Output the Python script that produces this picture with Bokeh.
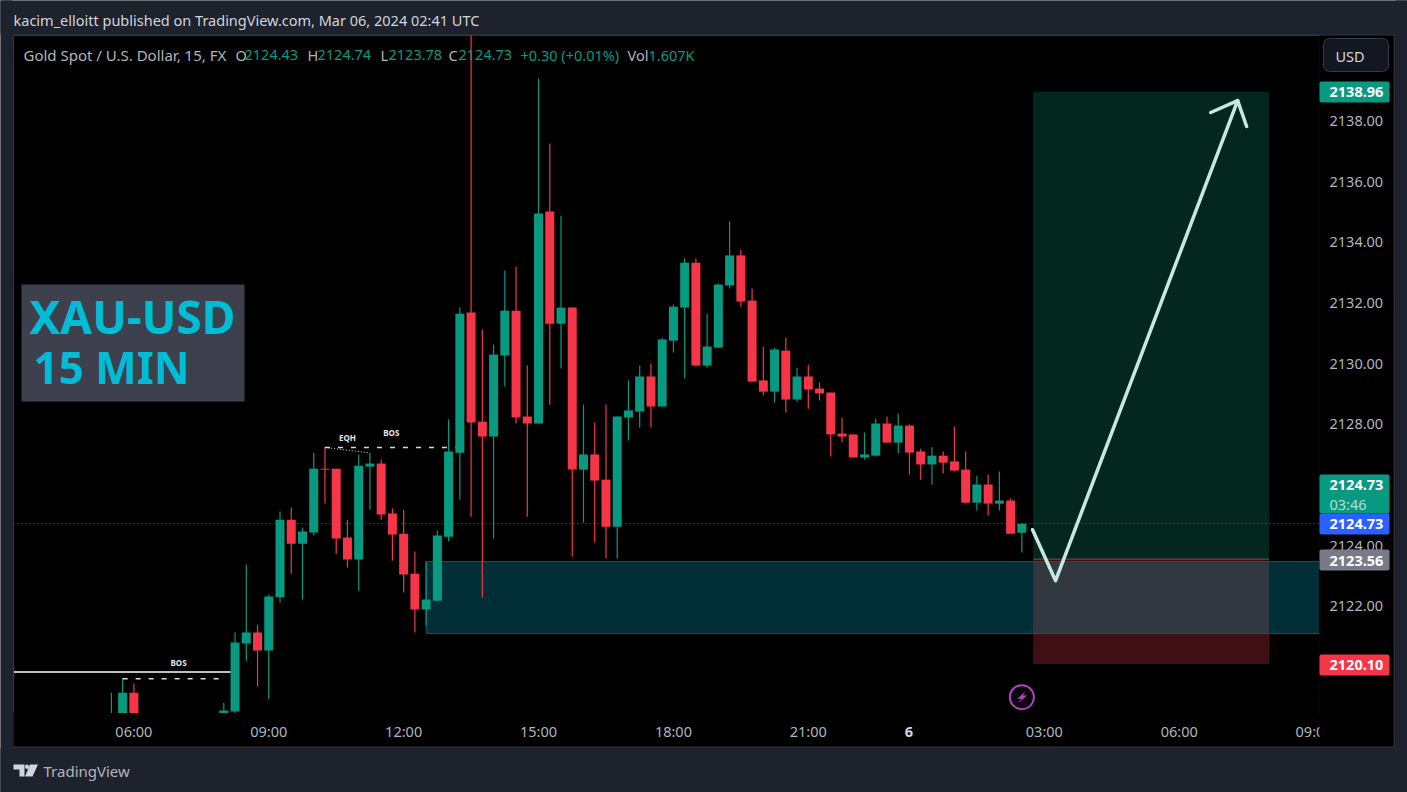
from bokeh.plotting import figure
from bokeh.core.properties import value
from bokeh.models import FixedTicker, PrintfTickFormatter, Range1d
from bokeh.embed import file_html
from bokeh.resources import INLINE

# ---- candle data (bar index 0 = 06:00, 15 min bars) ----
bar_index = [-2, -1, 0, 8, 9, 10, 11, 12, 13, 14, 15, 16, 17, 18, 19, 20, 21, 22, 23, 24, 25, 26, 27, 28, 29, 30, 31, 32, 33,
             34, 35, 36, 37, 38, 39, 40, 41, 42, 43, 44, 45, 46, 47, 48, 49, 50, 51, 52, 53, 54, 55, 56, 57, 58, 59, 60,
             61, 62, 63, 64, 65, 66, 67, 68, 69, 70, 71, 72, 73, 74, 75, 76, 77, 78, 79]
opens = [2117.50, 2118.00, 2119.16, 2118.45, 2118.54, 2120.78, 2121.14, 2120.55, 2122.30, 2124.86, 2124.07, 2124.44, 2126.54,
         2126.54, 2124.27, 2123.55, 2126.61, 2126.71, 2125.06, 2124.40, 2123.08, 2121.90, 2122.19, 2124.30, 2127.07, 2131.69,
         2128.09, 2127.60, 2130.27, 2131.75, 2128.26, 2128.03, 2135.02, 2131.32, 2131.85, 2126.51, 2127.01, 2126.18, 2124.63,
         2128.23, 2128.42, 2129.58, 2128.59, 2130.76, 2131.85, 2133.33, 2129.94, 2130.53, 2132.58, 2133.57, 2132.08, 2129.45,
         2129.08, 2130.43, 2128.82, 2129.58, 2129.18, 2129.05, 2127.70, 2127.67, 2126.91, 2126.97, 2128.03, 2127.40, 2127.96,
         2127.11, 2126.68, 2126.97, 2126.78, 2126.51, 2125.42, 2126.02, 2125.39, 2125.49, 2124.43]
highs = [2119.16, 2119.63, 2119.46, 2118.83, 2121.14, 2123.38, 2121.40, 2122.39, 2125.13, 2125.26, 2124.60, 2127.07, 2127.25,
         2126.54, 2124.86, 2127.01, 2127.07, 2126.84, 2125.23, 2125.19, 2123.81, 2123.48, 2124.50, 2128.16, 2131.85, 2142.00,
         2131.13, 2130.63, 2133.07, 2133.20, 2129.94, 2139.40, 2137.26, 2134.88, 2131.85, 2128.65, 2128.06, 2128.65, 2128.26,
         2129.45, 2129.94, 2130.01, 2130.86, 2131.95, 2133.47, 2133.47, 2131.65, 2132.64, 2134.69, 2133.76, 2132.48, 2130.57,
         2130.53, 2130.86, 2129.87, 2129.97, 2129.38, 2129.05, 2128.23, 2127.67, 2127.73, 2128.19, 2128.26, 2128.36, 2128.00,
         2127.20, 2127.25, 2127.11, 2127.93, 2127.11, 2126.31, 2126.35, 2126.45, 2125.56, 2124.74]
lows = [2117.20, 2117.80, 2117.80, 2118.40, 2118.40, 2120.19, 2119.36, 2118.94, 2122.13, 2123.08, 2122.23, 2124.34, 2125.39,
        2123.74, 2123.28, 2122.52, 2125.19, 2124.86, 2123.51, 2122.46, 2121.14, 2121.37, 2122.16, 2124.14, 2125.52, 2124.96,
        2122.29, 2124.24, 2129.25, 2128.03, 2124.96, 2128.03, 2128.65, 2129.84, 2123.64, 2124.76, 2124.11, 2123.58, 2123.58,
        2127.47, 2127.90, 2127.90, 2128.59, 2130.37, 2129.51, 2129.91, 2129.87, 2130.53, 2132.48, 2131.88, 2129.41, 2128.95,
        2128.72, 2128.39, 2128.75, 2128.52, 2128.79, 2126.94, 2127.40, 2126.91, 2126.84, 2126.94, 2127.40, 2127.04, 2126.35,
        2126.18, 2126.02, 2126.38, 2126.45, 2125.39, 2125.16, 2125.00, 2125.16, 2124.40, 2123.78]
closes = [2118.00, 2119.16, 2118.00, 2118.57, 2120.81, 2121.14, 2120.55, 2122.33, 2124.86, 2124.07, 2124.47, 2126.54, 2126.51,
          2124.24, 2123.55, 2126.64, 2126.71, 2125.03, 2124.37, 2123.05, 2121.90, 2122.23, 2124.34, 2127.11, 2131.65, 2128.06,
          2127.60, 2130.30, 2131.75, 2128.23, 2128.03, 2134.95, 2131.32, 2131.85, 2126.51, 2127.01, 2126.15, 2124.63, 2128.26,
          2128.46, 2129.58, 2128.59, 2130.80, 2131.88, 2133.33, 2129.94, 2130.57, 2132.61, 2133.57, 2132.05, 2129.41, 2129.08,
          2130.47, 2128.82, 2129.58, 2129.15, 2129.02, 2127.67, 2127.60, 2126.91, 2127.01, 2128.03, 2127.40, 2127.96, 2127.07,
          2126.68, 2126.97, 2126.74, 2126.48, 2125.42, 2126.02, 2125.39, 2125.49, 2124.40, 2124.73]

time_ticks = [0, 12, 24, 36, 48, 60, 69, 81, 93, 105]
time_labels = ["06:00", "09:00", "12:00", "15:00", "18:00", "21:00", "", "03:00", "06:00", "09:00"]
price_ticks = [2122, 2124, 2126, 2128, 2130, 2132, 2134, 2136, 2138]

last_close = 2124.73
target_price = 2138.96
entry_price = 2123.56
stop_price = 2120.10
position_bars = [80, 101]
zone_prices = [2123.48, 2121.11]
zone_start = 26
arrow_x = [79.95, 82.0, 98.2]
arrow_y = [2124.53, 2122.85, 2138.67]
head_x = [95.8, 98.2, 99.0]
head_y = [2138.28, 2138.67, 2137.82]

GREEN = "#089981"
RED = "#f63648"
BG = "#1e222d"
EDGE = "#2a2e39"
FONT = "Noto Sans"

X0, X1 = -10.71, 105.48
Y0, Y1 = 2118.472, 2140.818

# frame occupies pixels x 13..1319, y 35..713 of the 1407x792 page
FL, FR, FT, FB = 13, 1319, 35, 713


def px(x):
    return X0 + (x - FL) * (X1 - X0) / (FR - FL)


def py(y):
    return Y1 - (y - FT) * (Y1 - Y0) / (FB - FT)


p = figure(width=1407, height=792, output_backend="svg", toolbar_location=None,
           x_range=Range1d(X0, X1), y_range=Range1d(Y0, Y1), y_axis_location="right",
           min_border_left=FL, min_border_right=1407 - FR, min_border_top=FT, min_border_bottom=792 - FB,
           background_fill_color="#000000", border_fill_color="#000000", outline_line_color=None)
p.grid.visible = False

for ax in (p.xaxis[0], p.yaxis[0]):
    ax.axis_line_color = None
    ax.major_tick_line_color = None
    ax.minor_tick_line_color = None
    ax.major_tick_out = 0
    ax.major_tick_in = 0
    ax.minor_tick_out = 0
    ax.major_label_text_color = "#b2b5be"
    ax.major_label_text_font = FONT
    ax.major_label_text_font_size = "14.5px"
p.xaxis[0].major_label_standoff = 7
p.yaxis[0].major_label_standoff = 10
p.xaxis[0].ticker = FixedTicker(ticks=time_ticks)
p.xaxis[0].major_label_overrides = {t: s for t, s in zip(time_ticks, time_labels)}
p.yaxis[0].ticker = FixedTicker(ticks=price_ticks)
p.yaxis[0].formatter = PrintfTickFormatter(format="%.2f")


def box(l, t, r, b, fill, line=None, lw=1, radius=0):
    p.quad(left=[px(l)], right=[px(r)], top=[py(t)], bottom=[py(b)], fill_color=fill,
           line_color=line, line_width=lw, level="overlay", border_radius=radius)


def label(x, y, text, color="#b2b5be", size=14.5, bold=False, align="left"):
    p.text(x=[px(x)], y=[py(y)], text=[text], text_color=color, text_font=value(FONT),
           text_font_size=f"{size}px", text_font_style="bold" if bold else "normal",
           text_align=align, text_baseline="middle", level="overlay")


def poly(xs, ys, color):
    p.patch(x=[px(x) for x in xs], y=[py(y) for y in ys], fill_color=color, line_color=None, level="overlay")


# zones and long position drawing
p.quad(left=[zone_start], right=[X1 + 1], top=[zone_prices[0]], bottom=[zone_prices[1]],
       fill_color="#012e37", line_color="#0b5b62", line_width=1)
p.quad(left=[position_bars[0]], right=[position_bars[1]], top=[target_price], bottom=[entry_price],
       fill_color="#03261f", line_color=None)
p.quad(left=[position_bars[0]], right=[position_bars[1]], top=[entry_price], bottom=[stop_price],
       fill_color="#3f0f14", line_color=None)
p.quad(left=[position_bars[0]], right=[position_bars[1]], top=[zone_prices[0]], bottom=[zone_prices[1]],
       fill_color="#31383f", line_color=None)
for zp in zone_prices:
    p.line(position_bars, [zp, zp], line_color="#0b5b62", line_width=1)
p.line(position_bars, [entry_price, entry_price], line_color="#7a5256", line_width=1)

# last price line
p.line([X0, X1], [last_close, last_close], line_color=GREEN, line_width=1, line_dash="1 3")

# candles
colors = [GREEN if c >= o else RED for o, c in zip(opens, closes)]
p.segment(x0=bar_index, x1=bar_index, y0=lows, y1=highs, line_color=colors, line_width=1.2)
p.vbar(x=bar_index, width=0.8, top=[max(o, c) for o, c in zip(opens, closes)],
       bottom=[min(o, c) for o, c in zip(opens, closes)], fill_color=colors, line_color=None)

# BOS / EQH markup
p.line([X0, 8.6], [2119.84, 2119.84], line_color="#ffffff", line_width=1.5)
p.line([-1, 8.2], [2119.62, 2119.62], line_color="#d8d8d8", line_width=1.5, line_dash="5 8")
p.line([17, 28.6], [2127.24, 2127.24], line_color="#d8d8d8", line_width=1.5, line_dash="5 8")
p.line([17, 20.8], [2127.24, 2127.07], line_color="#d8d8d8", line_width=1, line_dash="1 2")
for tx, ty, s in [(3.97, 2120.15, "BOS"), (22.9, 2127.73, "BOS"), (19.0, 2127.57, "EQH")]:
    p.text(x=[tx], y=[ty], text=[s], text_color="#e6e6e6", text_font=value(FONT), text_font_size="8px",
           text_font_style="bold", text_align="center", text_baseline="middle")

# arrow
p.line(arrow_x, arrow_y, line_color="#c5e8e0", line_width=3.5, line_cap="round", line_join="round")
p.line(head_x, head_y, line_color="#c5e8e0", line_width=3.5, line_cap="round", line_join="round")

# lightning icon
p.scatter(x=[79], y=[2119.01], marker="circle", size=24, fill_color="#0a050c", line_color="#ab47bc", line_width=2)
poly([1025, 1016.7, 1021, 1017.3, 1026.7, 1022.3], [690.7, 698.3, 698.3, 702.7, 695, 695], "#ab47bc")

# cover the seam between the chart pane and the axis areas
box(13, 712.6, 1319, 713.6, "#000000")
box(1318.6, 35, 1319.6, 713, "#000000")

# page surround and the chart panel edge
box(0, 0, 1407, 33, BG)
box(0, 748, 1407, 792, BG)
box(0, 0, 12, 792, BG)
box(1395, 0, 1407, 792, BG)
box(12, 33, 1395, 35, EDGE)
box(12, 746, 1395, 748, EDGE)
box(12, 33, 13, 748, EDGE)
box(1393, 33, 1395, 748, EDGE)

# hide the part of the last time label that runs past the chart pane
box(1319, 720, 1345, 742, "#000000")
label(908.5, 731, "6", color="#d1d4dc", bold=True, align="center")

# instrument panel
box(21, 284, 244, 401, "#3e414d")
label(29, 315, "XAU-USD", color="#00bcd4", size=46, bold=True)
label(33, 366, "15 MIN", color="#00bcd4", size=44, bold=True)

# header & legend
label(13, 19, "kacim_elloitt published on TradingView.com, Mar 06, 2024 02:41 UTC", color="#d1d4dc")
label(23, 54, "Gold Spot / U.S. Dollar, 15, FX", size=15)
for lx, s in [(235, "O"), (307, "H"), (380, "L"), (448, "C"), (627, "Vol")]:
    label(lx, 54, s, size=14.5)
for lx, s in [(244, "2124.43"), (317, "2124.74"), (388, "2123.78"), (458, "2124.73"), (520, "+0.30 (+0.01%)"), (648, "1.607K")]:
    label(lx, 54, s, color=GREEN, size=14.5)

# USD button
box(1323, 38, 1388, 71, "#131722", "#363a45", 1, radius=6)
label(1335, 55, "USD", color="#d1d4dc", size=14.5)

# price tags
box(1319, 81, 1389, 102, GREEN, radius=2)
label(1329, 91.5, "2138.96", color="#ffffff", bold=True)
box(1319, 474, 1389, 513, GREEN, radius=2)
label(1329, 484.5, "2124.73", color="#ffffff", bold=True)
label(1329, 503, "03:46", color="#b5dfd6")
box(1319, 513, 1389, 534, "#2962ff", radius=2)
label(1329, 523.5, "2124.73", color="#ffffff", bold=True)
box(1319, 549, 1389, 570, "#787b86", radius=2)
label(1329, 560, "2123.56", color="#ffffff", bold=True)
box(1319, 654, 1389, 675, RED, radius=2)
label(1329, 664.5, "2120.10", color="#ffffff", bold=True)

# TradingView mark
poly([13, 24, 24, 19, 19, 13], [764, 764, 776, 776, 769, 769], "#d1d4dc")
poly([29.5, 37.5, 32, 24.5], [764, 764, 776, 776], "#d1d4dc")
box(24.5, 764, 28.5, 768.5, "#d1d4dc", radius=2)
label(43, 770, "TradingView", color="#b2b5be", size=15)

open("out.html", "w").write(file_html(p, INLINE))
